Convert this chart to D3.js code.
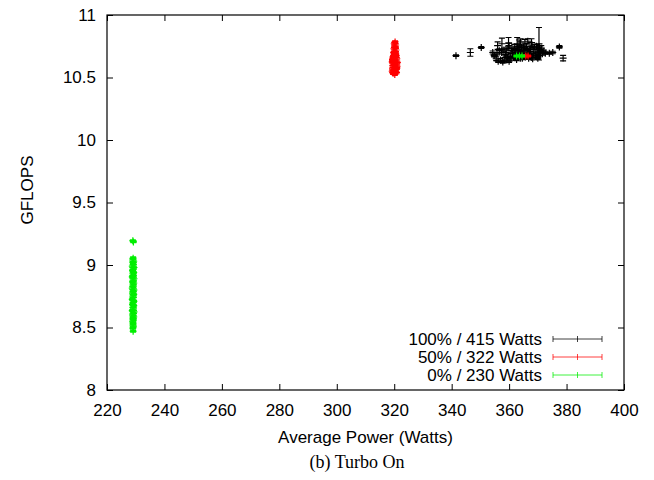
<!DOCTYPE html>
<html>
<head>
<meta charset="utf-8">
<script src="https://cdn.jsdelivr.net/npm/d3@7"></script>
<style>
  body { margin: 0; background: #fff; }
  svg text { font-family: "Liberation Sans", Arial, Helvetica, sans-serif; font-size: 17px; fill: #000; }
  svg text.caption { font-family: "Liberation Serif", "Times New Roman", serif; font-size: 18px; }
</style>
</head>
<body>
<div id="chart"></div>
<script>
// GFLOPS vs average power, turbo on
// each point: [watts, gflops, error]
var full = [
  [341.5, 10.675, 0.006], [346.5, 10.70, 0.03], [350.3, 10.74, 0.008], [370.4, 10.77, 0.13],
  [377.5, 10.745, 0.01], [378.8, 10.655, 0.022], [375.2, 10.70, 0.01], [374.0, 10.695, 0.008],
  [354.3, 10.70, 0.012], [354.8, 10.675, 0.01], [355.5, 10.65, 0.015], [356.2, 10.63, 0.01],
  [357.0, 10.64, 0.012], [357.8, 10.625, 0.01], [358.5, 10.66, 0.02], [359.2, 10.64, 0.015],
  [360.0, 10.63, 0.01], [357.5, 10.77, 0.045], [359.8, 10.775, 0.045], [362.8, 10.77, 0.05],
  [363.5, 10.76, 0.04], [356.0, 10.755, 0.03], [358.2, 10.72, 0.015], [359.0, 10.70, 0.02],
  [359.6, 10.735, 0.015], [360.4, 10.68, 0.012], [360.9, 10.715, 0.02], [361.5, 10.66, 0.01],
  [361.8, 10.745, 0.02], [362.3, 10.70, 0.015], [362.9, 10.675, 0.012], [363.4, 10.725, 0.02],
  [363.9, 10.655, 0.01], [364.3, 10.74, 0.018], [364.8, 10.69, 0.015], [365.2, 10.715, 0.02],
  [365.7, 10.665, 0.012], [366.1, 10.75, 0.02], [366.6, 10.70, 0.015], [367.0, 10.68, 0.01],
  [367.5, 10.73, 0.02], [367.9, 10.66, 0.012], [368.4, 10.71, 0.015], [368.8, 10.745, 0.02],
  [369.3, 10.69, 0.012], [369.8, 10.72, 0.018], [370.2, 10.675, 0.01], [370.7, 10.705, 0.015],
  [371.2, 10.735, 0.02], [371.6, 10.69, 0.012], [372.1, 10.71, 0.01], [372.6, 10.695, 0.008],
  [360.0, 10.755, 0.02], [361.2, 10.69, 0.02], [362.0, 10.725, 0.01], [364.0, 10.705, 0.012],
  [365.0, 10.745, 0.015], [366.3, 10.725, 0.012], [367.2, 10.705, 0.02], [368.0, 10.76, 0.02],
  [368.6, 10.68, 0.01], [369.5, 10.75, 0.015], [370.5, 10.745, 0.012], [371.0, 10.715, 0.01],
  [363.0, 10.745, 0.015], [358.8, 10.685, 0.015], [357.4, 10.70, 0.012], [356.6, 10.715, 0.015],
  [355.8, 10.69, 0.01], [360.6, 10.65, 0.012], [362.6, 10.645, 0.01], [364.6, 10.655, 0.012],
  [366.8, 10.655, 0.01], [368.2, 10.65, 0.01], [370.0, 10.655, 0.01], [359.5, 10.66, 0.01],
  [365.5, 10.775, 0.03], [367.8, 10.78, 0.03], [364.0, 10.785, 0.025], [366.5, 10.79, 0.02]
];

var half = [
  [320.3, 10.785, 0.008], [320.0, 10.77, 0.01], [320.5, 10.76, 0.012], [320.1, 10.75, 0.01],
  [320.4, 10.74, 0.008], [319.9, 10.73, 0.01], [320.6, 10.72, 0.012], [320.2, 10.71, 0.01],
  [319.8, 10.70, 0.008], [320.5, 10.695, 0.01], [320.0, 10.685, 0.012], [320.7, 10.675, 0.01],
  [319.6, 10.665, 0.01], [320.3, 10.66, 0.012], [320.9, 10.65, 0.01], [319.4, 10.645, 0.01],
  [320.1, 10.64, 0.012], [320.6, 10.63, 0.01], [319.3, 10.625, 0.01], [319.9, 10.615, 0.012],
  [320.8, 10.61, 0.01], [320.3, 10.60, 0.01], [319.5, 10.595, 0.012], [321.0, 10.59, 0.01],
  [320.0, 10.58, 0.01], [319.4, 10.57, 0.01], [320.6, 10.565, 0.012], [319.8, 10.555, 0.01],
  [320.4, 10.545, 0.01], [319.6, 10.535, 0.01], [320.2, 10.525, 0.008], [320.8, 10.54, 0.01],
  [319.3, 10.55, 0.01], [320.9, 10.575, 0.01], [321.1, 10.62, 0.01],
  [365.8, 10.672, 0.008], [366.6, 10.672, 0.008]
];

var idle = [
  [229.0, 9.195, 0.006], [229.2, 9.185, 0.006],
  [229.1, 9.055, 0.01], [228.9, 9.04, 0.012], [229.3, 9.03, 0.01], [229.0, 9.02, 0.008],
  [229.2, 9.005, 0.012], [228.8, 8.99, 0.01], [229.4, 8.98, 0.01], [229.1, 8.965, 0.012],
  [228.9, 8.955, 0.01], [229.3, 8.94, 0.008], [229.0, 8.93, 0.012], [229.2, 8.915, 0.01],
  [228.8, 8.905, 0.01], [229.4, 8.89, 0.012], [229.1, 8.88, 0.01], [228.9, 8.865, 0.008],
  [229.3, 8.855, 0.012], [229.0, 8.84, 0.01], [229.2, 8.83, 0.01], [228.8, 8.815, 0.012],
  [229.4, 8.80, 0.01], [229.1, 8.79, 0.008], [228.9, 8.775, 0.012], [229.3, 8.765, 0.01],
  [229.0, 8.75, 0.01], [229.2, 8.74, 0.012], [228.8, 8.725, 0.01], [229.4, 8.71, 0.008],
  [229.1, 8.70, 0.012], [228.9, 8.685, 0.01], [229.3, 8.675, 0.01], [229.0, 8.66, 0.012],
  [229.2, 8.65, 0.01], [228.8, 8.635, 0.008], [229.4, 8.625, 0.012], [229.1, 8.61, 0.01],
  [228.9, 8.60, 0.01], [229.3, 8.585, 0.012], [229.0, 8.575, 0.01], [229.2, 8.56, 0.008],
  [228.9, 8.55, 0.012], [229.1, 8.535, 0.01], [229.0, 8.52, 0.01], [229.2, 8.51, 0.01],
  [229.0, 8.495, 0.008], [229.1, 8.47, 0.008],
  [362.6, 10.672, 0.008], [363.6, 10.672, 0.008], [364.5, 10.672, 0.008]
];

var xTicks = [220, 240, 260, 280, 300, 320, 340, 360, 380, 400];
var yTicks = [8, 8.5, 9, 9.5, 10, 10.5, 11];
var legendLabels = ["100% / 415 Watts", "50% / 322 Watts", "0% / 230 Watts"];
var colors = ["#000000", "#ff0000", "#00ee00"];

var margin = {top: 15, right: 30, bottom: 90, left: 107},
    width = 654 - margin.left - margin.right,
    height = 480 - margin.top - margin.bottom;

var x = d3.scaleLinear()
    .domain([220, 400])
    .range([0, width]);

var y = d3.scaleLinear()
    .domain([8, 11])
    .range([height, 0]);

var svg = d3.select("#chart").append("svg")
    .attr("width", width + margin.left + margin.right)
    .attr("height", height + margin.top + margin.bottom);

var g = svg.append("g")
    .attr("transform", "translate(" + margin.left + "," + margin.top + ")");

// ticks point inward, mirrored on top and right
g.append("g")
    .attr("transform", "translate(0," + height + ")")
    .call(d3.axisBottom(x).tickValues(xTicks).tickSizeInner(-6).tickSizeOuter(0).tickPadding(14).tickFormat(d3.format("d")));

g.append("g")
    .call(d3.axisTop(x).tickValues(xTicks).tickSizeInner(-6).tickSizeOuter(0).tickFormat(""));

g.append("g")
    .call(d3.axisLeft(y).tickValues(yTicks).tickSizeInner(-6).tickSizeOuter(0).tickPadding(11).tickFormat(d3.format("~g")));

g.append("g")
    .attr("transform", "translate(" + width + ",0)")
    .call(d3.axisRight(y).tickValues(yTicks).tickSizeInner(-6).tickSizeOuter(0).tickFormat(""));

g.selectAll(".domain").remove();
g.selectAll(".tick line").attr("stroke", "#000");
g.selectAll(".tick text")
    .style("font-family", "'Liberation Sans', Arial, sans-serif")
    .style("font-size", "17px");

g.append("rect")
    .attr("x", 0).attr("y", 0)
    .attr("width", width).attr("height", height)
    .attr("fill", "none")
    .attr("stroke", "#000")
    .attr("stroke-width", 1.2);

// points with error bars
var cap = 3, mark = 3.5;

function drawSeries(data, color) {
  var s = g.append("g").attr("stroke", color).attr("stroke-width", 1.2).attr("fill", "none");
  var p = s.selectAll("g").data(data).enter().append("g");
  p.append("path")
      .attr("d", function(d) {
        var px = x(d[0]), py = y(d[1]), lo = y(d[1] - d[2]), hi = y(d[1] + d[2]);
        return "M" + px + "," + lo + "V" + hi +
          "M" + (px - cap) + "," + lo + "H" + (px + cap) +
          "M" + (px - cap) + "," + hi + "H" + (px + cap) +
          "M" + (px - mark) + "," + py + "H" + (px + mark) +
          "M" + px + "," + (py - mark) + "V" + (py + mark);
      });
}

drawSeries(full, colors[0]);
drawSeries(half, colors[1]);
drawSeries(idle, colors[2]);

// legend
var legend = svg.append("g");
legendLabels.forEach(function(label, i) {
  var ly = 339 + i * 18;
  legend.append("text")
      .attr("x", 542)
      .attr("y", ly + 6)
      .style("text-anchor", "end")
      .text(label);
  legend.append("path")
      .attr("stroke", colors[i])
      .attr("stroke-width", 1)
      .attr("fill", "none")
      .attr("opacity", 0.75)
      .attr("d", "M553," + ly + "H602" +
        "M553," + (ly - 3) + "V" + (ly + 3) +
        "M602," + (ly - 3) + "V" + (ly + 3) +
        "M577.5," + (ly - 3) + "V" + (ly + 3));
});

svg.append("text")
    .attr("transform", "translate(33,190) rotate(-90)")
    .style("text-anchor", "middle")
    .text("GFLOPS");

svg.append("text")
    .attr("x", margin.left + width / 2)
    .attr("y", 443)
    .style("text-anchor", "middle")
    .text("Average Power (Watts)");

svg.append("text")
    .attr("class", "caption")
    .attr("x", 357)
    .attr("y", 468)
    .style("text-anchor", "middle")
    .text("(b) Turbo On");
</script>
</body>
</html>
